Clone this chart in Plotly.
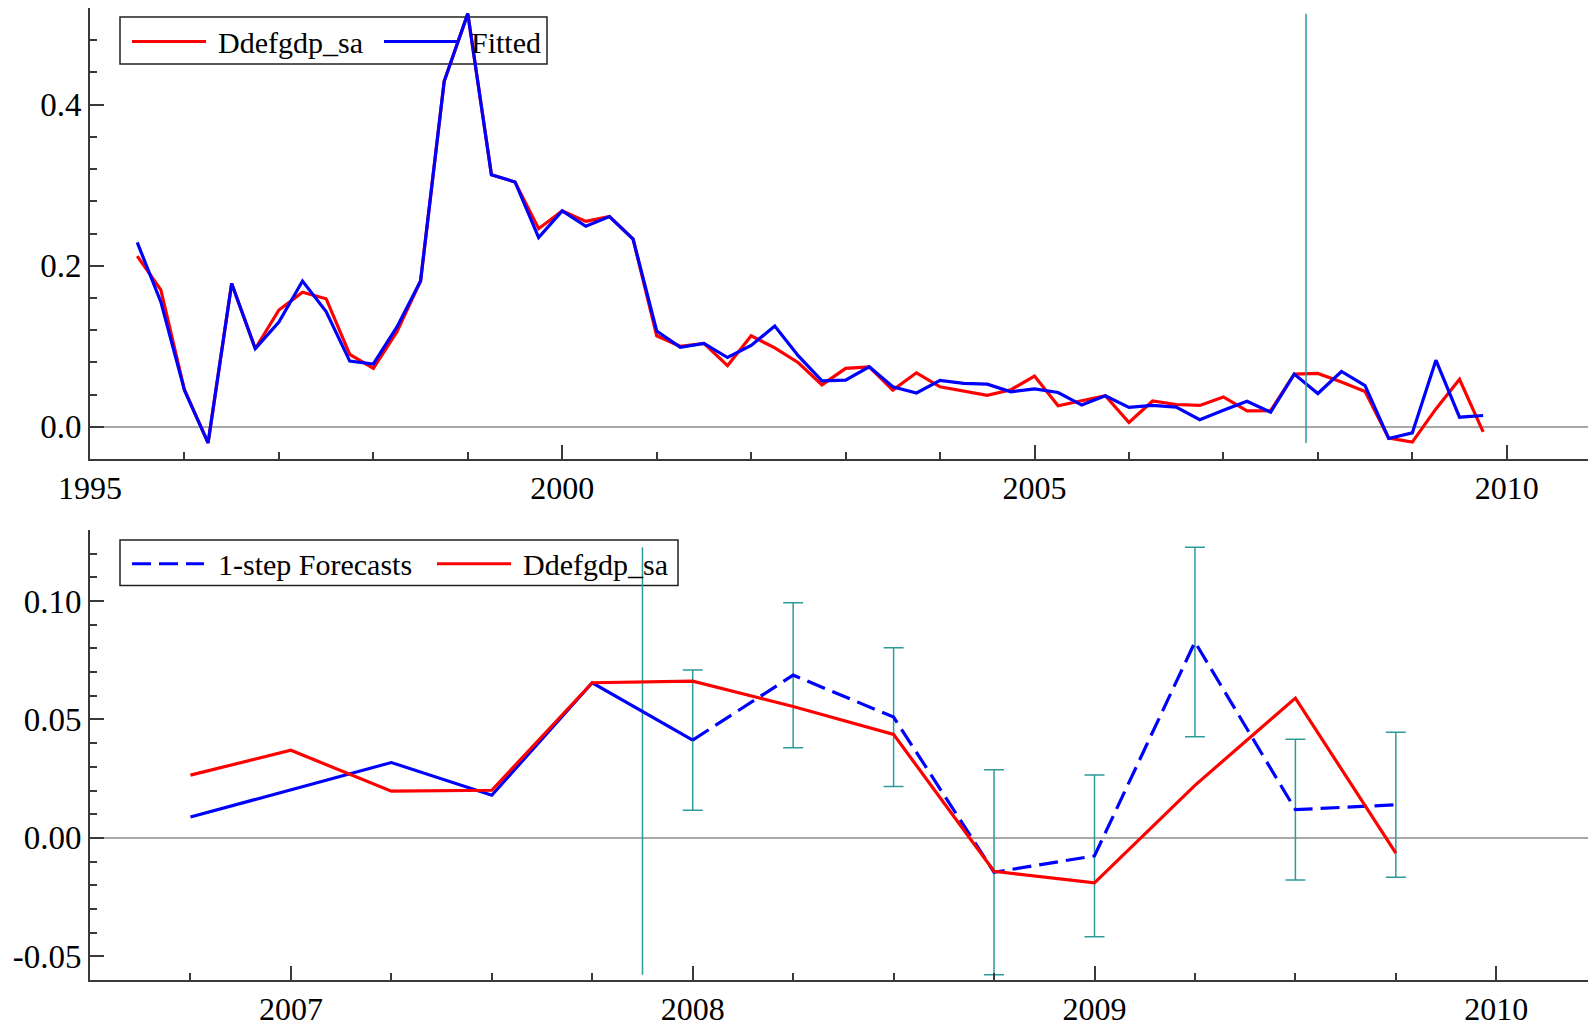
import plotly.graph_objects as go

# ---- data -------------------------------------------------------------
# quarterly observations 1995(3) .. 2009(4), plotted at year + (q-1)/4
start_year, start_quarter = 1995, 3

ddefgdp_sa = [
    0.212, 0.170,
    0.046, -0.020, 0.178, 0.097,
    0.145, 0.167, 0.159, 0.090,
    0.0725, 0.118, 0.181, 0.429,
    0.513, 0.313, 0.304, 0.246,
    0.268, 0.255, 0.261, 0.233,
    0.113, 0.100, 0.1035, 0.0758,
    0.113, 0.098, 0.0795, 0.052,
    0.0725, 0.0745, 0.0455, 0.067,
    0.0497, 0.0445, 0.039, 0.046,
    0.063, 0.026, 0.032, 0.0385,
    0.0054, 0.032, 0.0277, 0.0265,
    0.037, 0.0197, 0.0201, 0.0655,
    0.0662, 0.0555, 0.0437, -0.0141,
    -0.019, 0.0222, 0.059, -0.0064,
]

fitted = [
    0.229, 0.155,
    0.0455, -0.020, 0.178, 0.097,
    0.130, 0.181, 0.143, 0.0816,
    0.078, 0.124, 0.181, 0.429,
    0.513, 0.313, 0.304, 0.235,
    0.268, 0.249, 0.261, 0.233,
    0.119, 0.0986, 0.1035, 0.086,
    0.101, 0.125, 0.088, 0.057,
    0.058, 0.0745, 0.0497, 0.042,
    0.0576, 0.0538, 0.053, 0.0435,
    0.047, 0.0426, 0.027, 0.0385,
    0.024, 0.0265, 0.0244, 0.0088,
    0.0204, 0.0318, 0.018, 0.0655,
    0.0413, 0.0687, 0.0510, -0.0145,
    -0.0076, 0.0827, 0.0119, 0.0140,
]

# number of 1-step forecasts at the end of the sample, and the +/- 2SE half-widths
n_forecast = 8
forecast_band = [0.0296, 0.0306, 0.0293, 0.0433, 0.0341, 0.0400, 0.0297, 0.0306]

# number of quarters shown in the lower (forecast) panel
n_zoom = 13

top_yticks = [0.0, 0.2, 0.4]
top_yticklabels = ["0.0", "0.2", "0.4"]
bottom_yticks = [-0.05, 0.0, 0.05, 0.10]
bottom_yticklabels = ["-0.05", "0.00", "0.05", "0.10"]

# ---- derived series ---------------------------------------------------
t = [start_year + (start_quarter - 1 + i) / 4 for i in range(len(ddefgdp_sa))]
t_fc = t[-n_forecast:]
fc = fitted[-n_forecast:]
split = (t[-n_forecast - 1] + t[-n_forecast]) / 2

t_zoom = t[-n_zoom:]
actual_zoom = ddefgdp_sa[-n_zoom:]
fitted_zoom_t = t[-n_zoom:-n_forecast + 1]
fitted_zoom = fitted[-n_zoom:-n_forecast + 1]
fc_lo = [f - b for f, b in zip(fc, forecast_band)]
fc_hi = [f + b for f, b in zip(fc, forecast_band)]

# ---- style ------------------------------------------------------------
W, H = 1588, 1027
ML, MR, MT, MB = 90, 0, 8, 47
FONT = "Liberation Serif"
RED = "#ff0000"
BLUE = "#0000ff"
TEAL = "#2f9a9a"
AXIS = "#3a3a3a"
LW = 3.2


def px(x):
    return (x - ML) / (W - ML - MR)


def py(y):
    return (H - MB - y) / (H - MT - MB)


fig = go.Figure()

# upper panel: actual vs fitted over the whole sample
fig.add_trace(go.Scatter(x=t, y=ddefgdp_sa, mode="lines", line=dict(color=RED, width=LW),
                         xaxis="x", yaxis="y", showlegend=False, name="Ddefgdp_sa"))
fig.add_trace(go.Scatter(x=t, y=fitted, mode="lines", line=dict(color=BLUE, width=LW),
                         xaxis="x", yaxis="y", showlegend=False, name="Fitted"))
all_top = ddefgdp_sa + fitted
fig.add_trace(go.Scatter(x=[split, split], y=[min(all_top), max(all_top)], mode="lines",
                         line=dict(color=TEAL, width=1.5), xaxis="x", yaxis="y",
                         showlegend=False, hoverinfo="skip"))

# lower panel: forecast period with error bars
fig.add_trace(go.Scatter(x=[split, split], y=[min(fc_lo), max(fc_hi)], mode="lines",
                         line=dict(color=TEAL, width=1.5), xaxis="x2", yaxis="y2",
                         showlegend=False, hoverinfo="skip"))
fig.add_trace(go.Scatter(x=t_fc, y=fc, mode="markers",
                         marker=dict(size=1, color="rgba(0,0,0,0)"),
                         error_y=dict(type="data", array=forecast_band, symmetric=True,
                                      color=TEAL, thickness=1.5, width=10),
                         xaxis="x2", yaxis="y2", showlegend=False, hoverinfo="skip"))
fig.add_trace(go.Scatter(x=fitted_zoom_t, y=fitted_zoom, mode="lines",
                         line=dict(color=BLUE, width=LW), xaxis="x2", yaxis="y2",
                         showlegend=False))
fig.add_trace(go.Scatter(x=t_fc, y=fc, mode="lines",
                         line=dict(color=BLUE, width=LW, dash="19px,8px"),
                         xaxis="x2", yaxis="y2", showlegend=False, name="1-step Forecasts"))
fig.add_trace(go.Scatter(x=t_zoom, y=actual_zoom, mode="lines",
                         line=dict(color=RED, width=LW), xaxis="x2", yaxis="y2",
                         showlegend=False, name="Ddefgdp_sa"))

xtickfont = dict(family=FONT, size=32, color="black")
ytickfont = dict(family=FONT, size=33, color="black")
common = dict(showgrid=False, showline=True, linecolor=AXIS, linewidth=2, ticks="inside",
              tickcolor=AXIS, tickwidth=1.5, ticklen=14, mirror=False, automargin=False)
minor_style = dict(ticks="inside", ticklen=7, tickcolor=AXIS, tickwidth=1.5, showgrid=False)

fig.update_layout(
    template="none",
    width=W, height=H,
    margin=dict(l=ML, r=MR, t=MT, b=MB),
    paper_bgcolor="white", plot_bgcolor="white",
    font=dict(family=FONT, color="black"),
    xaxis=dict(common, anchor="y", domain=[0, 1], range=[1995, 1995 + 1498 / 94.45],
               tickmode="linear", tick0=1995, dtick=5, tickformat="d", zeroline=False,
               ticklabelstandoff=0, tickfont=xtickfont,
               minor=dict(minor_style, tickmode="linear", tick0=1995, dtick=1)),
    yaxis=dict(common, anchor="x", domain=[0.536, 1], range=[-0.04, 0.52],
               tickmode="array", tickvals=top_yticks, ticktext=top_yticklabels,
               tickfont=ytickfont,
               zeroline=True, zerolinecolor="#a8a8a8", zerolinewidth=1.5,
               minor=dict(minor_style, tickmode="linear", tick0=0, dtick=0.04)),
    xaxis2=dict(common, anchor="y2", domain=[0, 1], range=[2006.5, 2006.5 + 1498 / 401.8],
                tickmode="linear", tick0=2007, dtick=1, tickformat="d", zeroline=False,
                ticklabelstandoff=0, tickfont=xtickfont,
                minor=dict(minor_style, tickmode="linear", tick0=2007, dtick=0.25)),
    yaxis2=dict(common, anchor="x2", domain=[0, 0.463], range=[-0.06, 0.13],
                tickmode="array", tickvals=bottom_yticks, ticktext=bottom_yticklabels,
                tickfont=ytickfont,
                zeroline=True, zerolinecolor="#a8a8a8", zerolinewidth=1.5,
                minor=dict(minor_style, tickmode="linear", tick0=0, dtick=0.01)),
)

# legends drawn as framed keys in the upper-left corner of each panel
shapes = []
annotations = []
legfont = dict(family=FONT, size=30, color="black")


def legend_box(x0, x1, y0, y1, items):
    shapes.append(dict(type="rect", xref="paper", yref="paper", x0=px(x0), x1=px(x1),
                       y0=py(y1), y1=py(y0), line=dict(color="#222222", width=1.5),
                       fillcolor="rgba(0,0,0,0)", layer="below"))
    yc = (y0 + y1) / 2
    for (lx0, lx1, tx, label, color, dash) in items:
        shapes.append(dict(type="line", xref="paper", yref="paper", x0=px(lx0), x1=px(lx1),
                           y0=py(yc + 1), y1=py(yc + 1),
                           line=dict(color=color, width=LW, dash=dash), layer="below"))
        annotations.append(dict(xref="paper", yref="paper", x=px(tx), y=py(yc),
                                xanchor="left", yanchor="middle", text=label, yshift=-2,
                                showarrow=False, font=legfont, borderpad=0))


legend_box(120, 547, 17, 64, [
    (132, 206, 217, "Ddefgdp_sa", RED, "solid"),
    (384, 457, 470, "Fitted", BLUE, "solid"),
])
legend_box(120, 678, 540, 585.5, [
    (132, 204, 217, "1-step Forecasts", BLUE, "19px,8px"),
    (437, 511, 522, "Ddefgdp_sa", RED, "solid"),
])

fig.update_layout(shapes=shapes, annotations=annotations)

fig.write_html("out.html")
